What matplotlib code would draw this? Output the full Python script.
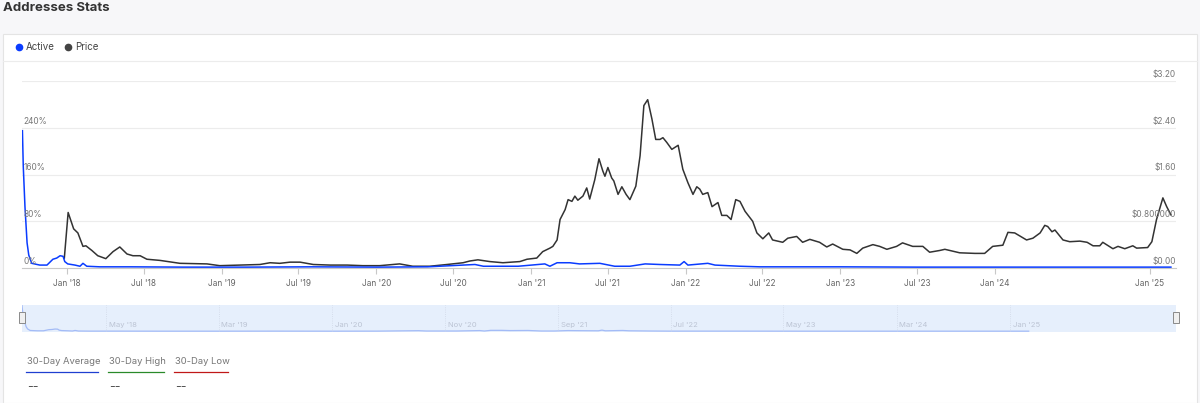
import matplotlib
matplotlib.use('Agg')
import matplotlib.pyplot as plt
from matplotlib.patches import Rectangle
from matplotlib.lines import Line2D
import pandas as pd

plt.rcParams['font.family'] = ['Inter', 'DejaVu Sans']

# active addresses (% change)
active_dates = ['2017-09-17', '2017-09-19', '2017-09-23', '2017-09-28', '2017-10-02', '2017-10-09',
                '2017-10-28', '2017-11-14', '2017-11-21', '2017-11-28', '2017-12-07', '2017-12-15',
                '2017-12-22', '2017-12-26', '2018-01-02', '2018-01-19', '2018-01-31', '2018-02-07',
                '2018-02-16', '2018-03-19', '2018-06-01', '2018-10-01', '2019-03-01', '2019-08-01',
                '2020-01-01', '2020-05-01', '2020-08-21', '2020-09-10', '2020-12-01', '2021-02-02',
                '2021-02-14', '2021-03-03', '2021-04-02', '2021-04-25', '2021-06-12', '2021-07-17',
                '2021-08-22', '2021-09-27', '2021-11-01', '2021-12-18', '2021-12-28', '2022-01-06',
                '2022-02-22', '2022-03-11', '2022-05-09', '2022-06-25', '2023-01-01', '2023-07-01',
                '2024-01-01', '2024-07-01', '2025-02-20']
active_pct = [235, 174, 105, 43, 22, 8,
              5, 5, 10, 15, 17, 21,
              20, 11, 7, 5, 3, 8,
              3, 2, 2, 1.5, 1.5, 2,
              1.5, 2, 6, 3, 3, 7,
              3, 9, 9, 7, 8, 3,
              3, 7, 6, 5, 11, 5,
              8, 5, 3, 2, 2, 1.5,
              1.5, 1.5, 1.5]

# price in USD
price_dates = ['2017-12-25', '2018-01-03', '2018-01-16', '2018-01-26', '2018-02-07', '2018-02-14',
               '2018-02-28', '2018-03-14', '2018-04-02', '2018-04-19', '2018-05-05', '2018-05-22',
               '2018-06-05', '2018-06-22', '2018-07-08', '2018-08-08', '2018-09-24', '2018-11-27',
               '2018-12-27', '2019-02-13', '2019-04-01', '2019-04-25', '2019-05-18', '2019-06-11',
               '2019-07-05', '2019-08-05', '2019-09-14', '2019-10-24', '2019-11-30', '2020-01-09',
               '2020-02-25', '2020-03-27', '2020-05-06', '2020-06-16', '2020-07-24', '2020-08-09',
               '2020-08-28', '2020-09-25', '2020-10-26', '2020-12-05', '2020-12-22', '2021-01-14',
               '2021-01-28', '2021-02-14', '2021-02-21', '2021-03-03', '2021-03-10', '2021-03-22',
               '2021-03-29', '2021-04-07', '2021-04-14', '2021-04-21', '2021-05-03', '2021-05-12',
               '2021-05-19', '2021-05-31', '2021-06-10', '2021-06-19', '2021-06-24', '2021-07-01',
               '2021-07-10', '2021-07-15', '2021-07-25', '2021-08-03', '2021-08-13', '2021-08-22',
               '2021-09-05', '2021-09-15', '2021-09-24', '2021-10-03', '2021-10-13', '2021-10-22',
               '2021-11-01', '2021-11-08', '2021-11-17', '2021-11-29', '2021-12-14', '2021-12-25',
               '2022-01-06', '2022-01-18', '2022-01-27', '2022-02-03', '2022-02-10', '2022-02-22',
               '2022-03-04', '2022-03-18', '2022-03-27', '2022-04-08', '2022-04-18', '2022-04-29',
               '2022-05-09', '2022-05-21', '2022-06-08', '2022-06-18', '2022-07-02', '2022-07-16',
               '2022-07-25', '2022-08-18', '2022-08-30', '2022-09-20', '2022-10-04', '2022-10-21',
               '2022-11-13', '2022-11-30', '2022-12-14', '2023-01-07', '2023-01-24', '2023-02-09',
               '2023-02-23', '2023-03-19', '2023-04-04', '2023-04-21', '2023-05-14', '2023-05-28',
               '2023-06-21', '2023-07-15', '2023-07-31', '2023-08-24', '2023-09-05', '2023-10-10',
               '2023-11-15', '2023-12-08', '2023-12-27', '2024-01-20', '2024-02-01', '2024-02-17',
               '2024-03-16', '2024-03-31', '2024-04-17', '2024-04-28', '2024-05-05', '2024-05-15',
               '2024-05-22', '2024-06-10', '2024-06-26', '2024-07-20', '2024-08-06', '2024-08-20',
               '2024-09-05', '2024-09-12', '2024-10-06', '2024-10-18', '2024-11-03', '2024-11-22',
               '2024-12-01', '2024-12-27', '2025-01-06', '2025-01-17', '2025-02-01', '2025-02-10',
               '2025-02-20']
price_usd = [0.17, 0.95, 0.67, 0.60, 0.37, 0.38,
             0.30, 0.21, 0.16, 0.28, 0.36, 0.24,
             0.21, 0.21, 0.15, 0.13, 0.08, 0.07,
             0.04, 0.05, 0.06, 0.09, 0.08, 0.10,
             0.10, 0.06, 0.05, 0.05, 0.04, 0.04,
             0.07, 0.03, 0.03, 0.06, 0.09, 0.12,
             0.14, 0.11, 0.09, 0.11, 0.15, 0.17,
             0.28, 0.34, 0.37, 0.48, 0.83, 1.00,
             1.17, 1.14, 1.23, 1.16, 1.23, 1.37,
             1.18, 1.51, 1.87, 1.66, 1.57, 1.72,
             1.54, 1.49, 1.26, 1.39, 1.26, 1.17,
             1.40, 1.92, 2.78, 2.88, 2.55, 2.20,
             2.20, 2.23, 2.15, 2.03, 2.10, 1.69,
             1.46, 1.26, 1.39, 1.35, 1.26, 1.29,
             1.05, 1.12, 0.90, 0.90, 0.83, 1.17,
             1.14, 0.97, 0.80, 0.60, 0.50, 0.60,
             0.48, 0.44, 0.51, 0.54, 0.44, 0.49,
             0.44, 0.36, 0.41, 0.32, 0.31, 0.25,
             0.34, 0.40, 0.37, 0.32, 0.37, 0.43,
             0.37, 0.37, 0.27, 0.30, 0.32, 0.26,
             0.25, 0.25, 0.37, 0.39, 0.61, 0.60,
             0.48, 0.51, 0.60, 0.73, 0.71, 0.62,
             0.65, 0.48, 0.45, 0.46, 0.44, 0.38,
             0.38, 0.44, 0.33, 0.37, 0.33, 0.38,
             0.34, 0.35, 0.45, 0.83, 1.20, 1.05,
             0.91]

tick_dates = ['2018-01-01', '2018-07-01', '2019-01-01', '2019-07-01', '2020-01-01', '2020-07-01',
              '2021-01-01', '2021-07-01', '2022-01-01', '2022-07-01', '2023-01-01', '2023-07-01',
              '2024-01-01', '2025-01-01']
tick_labels = ["Jan '18", "Jul '18", "Jan '19", "Jul '19", "Jan '20", "Jul '20", "Jan '21",
               "Jul '21", "Jan '22", "Jul '22", "Jan '23", "Jul '23", "Jan '24", "Jan '25"]
nav_dates = ['2018-05-01', '2019-03-01', '2020-01-01', '2020-11-01', '2021-09-01',
             '2022-07-01', '2023-05-01', '2024-03-01', '2025-01-01']
nav_labels = ["May '18", "Mar '19", "Jan '20", "Nov '20", "Sep '21",
              "Jul '22", "May '23", "Mar '24", "Jan '25"]
left_ticks = [0, 80, 160, 240]
left_labels = ['0%', '80%', '160%', '240%']
right_ticks = [0, 0.8, 1.6, 2.4, 3.2]
right_labels = ['$0.00', '$0.800000', '$1.60', '$2.40', '$3.20']
stat_names = ['30-Day Average', '30-Day High', '30-Day Low']
stat_values = ['--', '--', '--']

W, H = 1200, 403
def fx(px):
    return px / W
def fy(py):
    return 1 - py / H

blue = '#0a3cff'
dark = '#333333'

fig = plt.figure(figsize=(12, 4.03), dpi=100, facecolor='#f7f7f9')

# white card + divider
fig.add_artist(Rectangle((fx(3), 0), fx(1194), fy(34), transform=fig.transFigure,
                         fc='white', ec='#e4e4e4', lw=0.8, zorder=-1))
fig.add_artist(Line2D([fx(3), fx(1197)], [fy(61), fy(61)], color='#ececec', lw=0.8))

fig.text(fx(3), fy(8), 'Addresses Stats', fontsize=9.5, fontweight='bold', color='#333333', va='center')

# legend
fig.add_artist(Line2D([fx(19)], [fy(47)], marker='o', ms=4.5, color=blue, lw=0))
fig.text(fx(26), fy(47), 'Active', fontsize=7, color='#444444', va='center')
fig.add_artist(Line2D([fx(68)], [fy(47)], marker='o', ms=4.5, color='#444444', lw=0))
fig.text(fx(75), fy(47), 'Price', fontsize=7, color='#444444', va='center')

ad = pd.to_datetime(active_dates)
pdt = pd.to_datetime(price_dates)
x0 = pd.Timestamp('2017-09-16')
x1 = pd.Timestamp('2025-03-04')

ax = fig.add_axes([fx(22), fy(268), fx(1176 - 22), (268 - 81) / H])
ax.set_xlim(x0, x1)
ax.set_ylim(0, 3.2)
for v in right_ticks[1:]:
    ax.axhline(v, color='#ececec', lw=0.8, zorder=0)
ax.plot(pdt, price_usd, color=dark, lw=1.1, zorder=2)
for s in ['top', 'left', 'right']:
    ax.spines[s].set_visible(False)
ax.spines['bottom'].set_color('#c8c8c8')
ax.set_yticks([])
ax.set_xticks(pd.to_datetime(tick_dates))
ax.set_xticklabels(tick_labels)
ax.tick_params(axis='x', length=4, width=0.8, color='#c8c8c8', labelsize=6, labelcolor='#666666', pad=4)
ax.patch.set_alpha(0)

for v, lab in zip(right_ticks, right_labels):
    ax.annotate(lab, xy=(1, v), xycoords=('axes fraction', 'data'), xytext=(0, 1.5),
                textcoords='offset points', ha='right', va='bottom', fontsize=6,
                color='#777777', annotation_clip=False, parse_math=False)

ax2 = ax.twinx()
ax2.set_ylim(0, 320)
ax2.plot(ad, active_pct, color=blue, lw=1.1, zorder=3)
ax2.set_yticks([])
for s in ['top', 'left', 'right', 'bottom']:
    ax2.spines[s].set_visible(False)
for v, lab in zip(left_ticks, left_labels):
    ax2.annotate(lab, xy=(0, v), xycoords=('axes fraction', 'data'), xytext=(0.8, 1.5),
                 textcoords='offset points', ha='left', va='bottom', fontsize=6,
                 color='#777777', annotation_clip=False)

# navigator
nav = fig.add_axes([fx(22), fy(332), fx(1154), 27 / H])
nav.set_facecolor('#e6effc')
nav.set_xlim(pd.Timestamp('2017-09-17'), pd.Timestamp('2026-03-24'))
nav.set_ylim(-6, 240)
nav.plot(ad, active_pct, color='#a3bbf6', lw=0.9)
for d, lab in zip(pd.to_datetime(nav_dates), nav_labels):
    nav.axvline(d, color='#d0d8e6', lw=0.6, ls=':')
    nav.annotate(lab, xy=(d, 0), xycoords=('data', 'axes fraction'), xytext=(2, 3),
                 textcoords='offset points', fontsize=5.5, color='#bcc4d4', va='bottom')
nav.set_xticks([])
nav.set_yticks([])
for s in nav.spines.values():
    s.set_visible(False)

for hx in [19, 1173]:
    fig.add_artist(Rectangle((fx(hx), fy(323)), fx(6), 11 / H, transform=fig.transFigure,
                             fc='#f0f0f0', ec='#8a8a8a', lw=0.7, zorder=5))

# 30-day stats
stat_x = [26, 108, 174]
stat_w = [72, 56, 54]
stat_colors = ['#1f3fd0', '#2a8a2a', '#c01818']
for name, val, sx, sw, c in zip(stat_names, stat_values, stat_x, stat_w, stat_colors):
    fig.text(fx(sx + 1), fy(361), name, fontsize=6.8, color='#777777', va='center')
    fig.add_artist(Line2D([fx(sx), fx(sx + sw)], [fy(371.5), fy(371.5)], color=c, lw=0.9))
    fig.text(fx(sx + 1), fy(387), val, fontsize=9, color='#555555', va='center')

fig.savefig('out.png', dpi=100, facecolor=fig.get_facecolor())
